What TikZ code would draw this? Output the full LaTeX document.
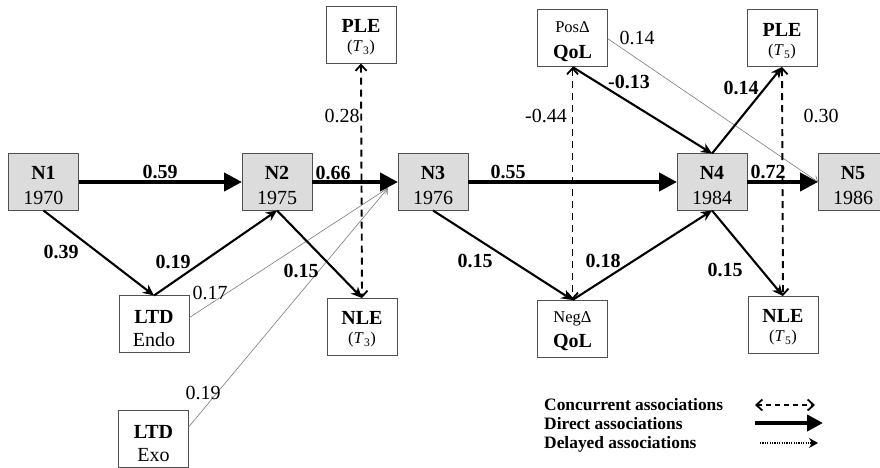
\documentclass[tikz,border=0pt]{standalone}
\usepackage{fontspec}
\setmainfont{Liberation Serif}
\usetikzlibrary{arrows.meta}

\definecolor{boxline}{HTML}{505050}
\definecolor{boxfill}{HTML}{DCDCDC}
\definecolor{lagline}{HTML}{7A7A7A}

\newcommand\fmain{\fontsize{20}{24}\selectfont}
\newcommand\fsmall{\fontsize{16.5}{20}\selectfont}
\newcommand\flegend{\fontsize{17.4}{20}\selectfont\bfseries}
% two centred lines with fixed baselines measured from the top of the box
\newcommand\twoline[4]{\vbox to 57pt{\offinterlineskip\hsize=70pt
  \kern#1\relax\hbox to\hsize{\hss\smash{#2}\hss}%
  \kern\dimexpr#3-#1\relax\hbox to\hsize{\hss\smash{#4}\hss}\vss}}
\newcommand\tsub[1]{(\textit{T}\kern0.5pt\textsubscript{#1})}

\tikzset{openbarb/.tip={Straight Barb[length=6pt,width=11pt,line width=1.8pt]}}

\begin{document}
\begin{tikzpicture}[x=1pt,y=-1pt,
  nbox/.style={draw=boxline, line width=1pt, minimum width=70pt, minimum height=57pt,
    inner sep=0pt, outer sep=0pt},
  gbox/.style={nbox, fill=boxfill},
  lab/.style={font=\fmain, anchor=base, inner sep=0pt},
  blab/.style={font=\fmain\bfseries, anchor=base, inner sep=0pt},
  leg/.style={font=\flegend, anchor=base west, inner sep=0pt},
  direct/.style={line width=4.2pt, -{Triangle[length=18pt,width=18pt]}},
  link/.style={line width=2.1pt, -{Stealth[length=11pt,width=10pt,inset=3.5pt]}},
  conc/.style={line width=1.9pt, dash pattern=on 7pt off 5pt, openbarb-openbarb},
  delay/.style={line width=0.6pt, draw=lagline, -{Straight Barb[length=5pt,width=8pt,line width=0.6pt]}}]

\clip (0,0) rectangle (880,468);

% waves of the cohort
\node[gbox] (n1) at (43.5,182) {\twoline{26pt}{\fmain\bfseries N1}{51pt}{\fmain 1970}};
\node[gbox] (n2) at (277,182)  {\twoline{26pt}{\fmain\bfseries N2}{51pt}{\fmain 1975}};
\node[gbox] (n3) at (433,182)  {\twoline{26pt}{\fmain\bfseries N3}{51pt}{\fmain 1976}};
\node[gbox] (n4) at (712,182)  {\twoline{26pt}{\fmain\bfseries N4}{51pt}{\fmain 1984}};
\node[gbox] (n5) at (853,182)  {\twoline{26pt}{\fmain\bfseries N5}{51pt}{\fmain 1986}};

% life events, disorders and quality of life
\node[nbox] (ple3) at (361,35)    {\twoline{26.5pt}{\fmain\bfseries PLE}{45.5pt}{\fsmall\tsub{3}}};
\node[nbox] (nle3) at (362,326.5) {\twoline{26.5pt}{\fmain\bfseries NLE}{45.5pt}{\fsmall\tsub{3}}};
\node[nbox] (ple5) at (782,38.5)  {\twoline{26.5pt}{\fmain\bfseries PLE}{45.5pt}{\fsmall\tsub{5}}};
\node[nbox] (nle5) at (783,324.5) {\twoline{26.5pt}{\fmain\bfseries NLE}{45.5pt}{\fsmall\tsub{5}}};
\node[nbox] (endo) at (154,324)   {\twoline{28pt}{\fmain\bfseries LTD}{51pt}{\fmain Endo}};
\node[nbox] (exo)  at (153.5,438.5) {\twoline{28pt}{\fmain\bfseries LTD}{51pt}{\fmain Exo}};
\node[nbox] (posq) at (572.5,38.5)  {\twoline{23pt}{\fsmall Pos\char"0394}{48.5pt}{\fmain\bfseries QoL}};
\node[nbox] (negq) at (572.5,328.5) {\twoline{22.5pt}{\fsmall Neg\char"0394}{47.5pt}{\fmain\bfseries QoL}};

% delayed associations
\coordinate (d3) at (388,188);
\draw[delay] (endo.10) -- (d3);
\draw[delay] (exo.18) -- (d3);
\draw[delay] (posq.east) -- (n5.west);

% concurrent associations
\draw[conc] (ple3.south) -- (nle3.north);
\draw[conc] (posq.south) -- (negq.north);
\draw[conc] (ple5.south) -- (nle5.north);

% direct associations
\draw[direct] (n1) -- (n2);
\draw[direct] (n2) -- (n3);
\draw[direct] (n3) -- (n4);
\draw[direct] (n4) -- (n5);
\draw[link] (n1.south) -- (endo.north);
\draw[link] (endo.north) -- (n2.south);
\draw[link] (n2.south) -- (nle3.north);
\draw[link] (n3.south) -- (negq.north);
\draw[link] (negq.north) -- (n4.south);
\draw[link] (n4.south) -- (nle5.north);
\draw[link] (posq.south) -- (n4.north);
\draw[link] (n4.north) -- (ple5.south);

% coefficients
\node[blab] (l1) at (160,178) {0.59};
\node[blab] (l2) at (333,179) {0.66};
\node[blab] (l3) at (508,178) {0.55};
\node[blab] (l4) at (768,178) {0.72};
\node[blab] (l5) at (61,258) {0.39};
\node[blab] (l6) at (173,268) {0.19};
\node[blab] (l7) at (301,277) {0.15};
\node[blab] (l8) at (475,267) {0.15};
\node[blab] (l9) at (603,267) {0.18};
\node[blab] (l10) at (725,276) {0.15};
\node[blab] (l11) at (629,89) {-0.13};
\node[blab] (l12) at (741,95) {0.14};
\node[lab] (l13) at (210,299) {0.17};
\node[lab] (l14) at (203,399) {0.19};
\node[lab] (l15) at (342,122) {0.28};
\node[lab] (l16) at (546,122) {-0.44};
\node[lab] (l17) at (637,45) {0.14};
\node[lab] (l18) at (821,122) {0.30};

% key
\node[leg] (k1) at (544,410) {Concurrent associations};
\node[leg] (k2) at (544,429) {Direct associations};
\node[leg] (k3) at (544,448) {Delayed associations};
\coordinate (k1a) at (755,405); \coordinate (k1b) at (815,405);
\coordinate (k2a) at (755,423); \coordinate (k2b) at (823,423);
\coordinate (k3a) at (760,443); \coordinate (k3b) at (818,443);
\draw[line width=1.8pt, dash pattern=on 5pt off 4pt, openbarb-openbarb] (k1a) -- (k1b);
\draw[line width=4.2pt, -{Triangle[length=16pt,width=16pt]}] (k2a) -- (k2b);
\draw[line width=2pt, dash pattern=on 1.2pt off 1.2pt, -{Stealth[length=9pt,width=10pt,inset=3pt]}] (k3a) -- (k3b);
\end{tikzpicture}
\end{document}
